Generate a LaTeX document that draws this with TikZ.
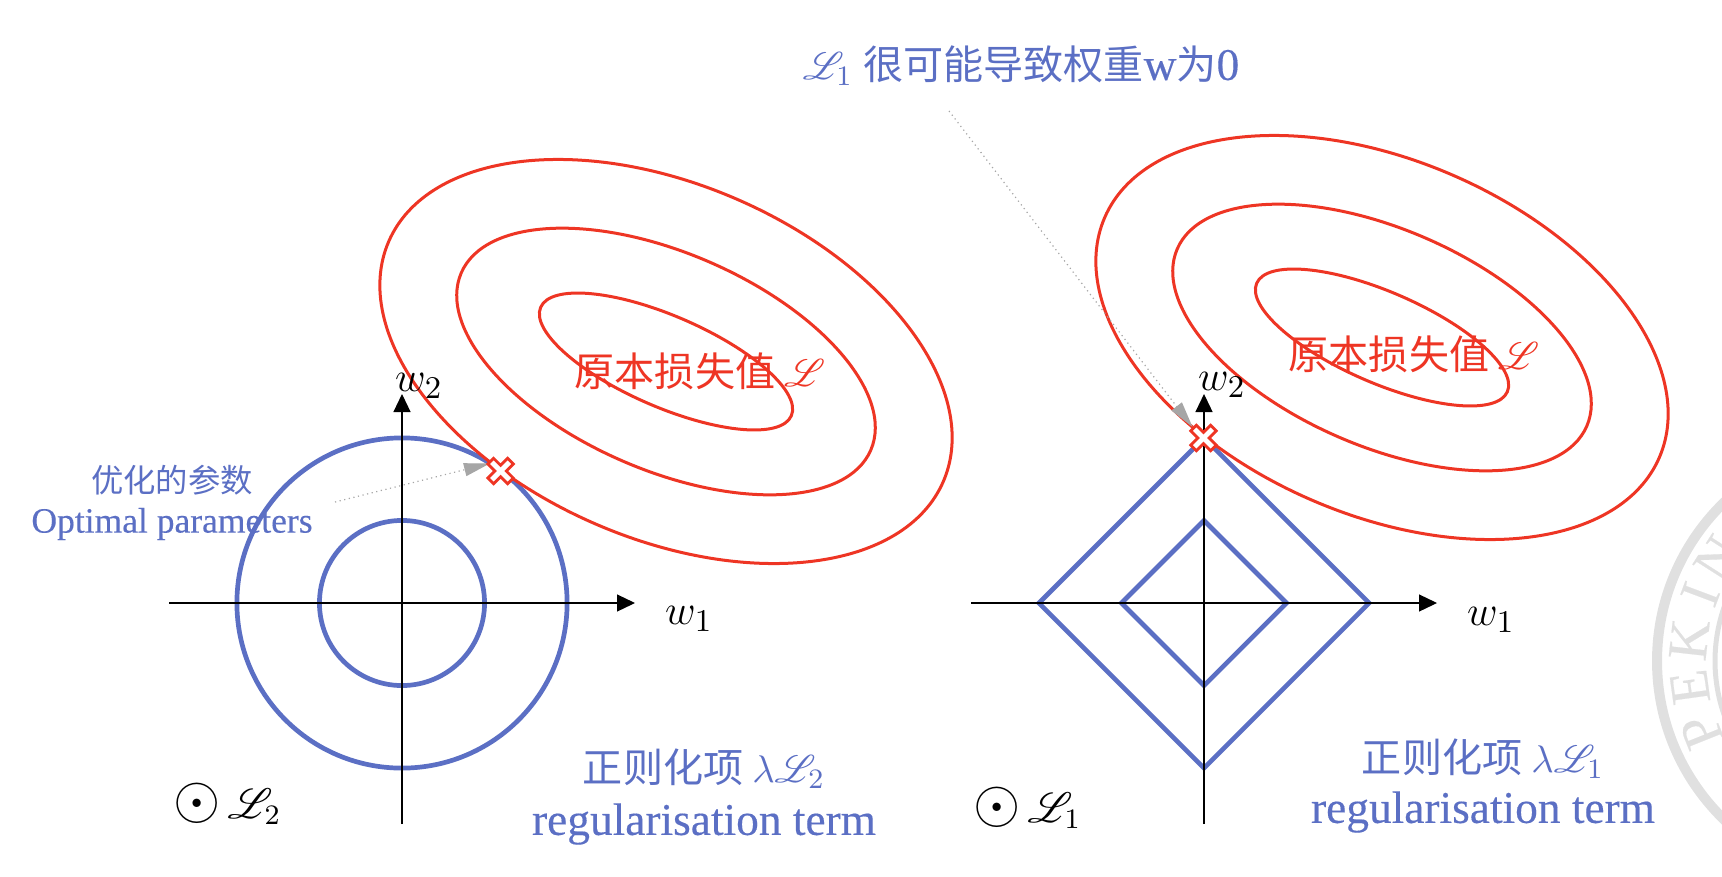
\documentclass[tikz,border=0pt]{standalone}
\usepackage{fontspec}
\usepackage{amsmath}
\usepackage{amssymb}
\usepackage{mathrsfs}
\setmainfont{Liberation Serif}
\newfontfamily\cjk{Noto Sans CJK SC}
\newfontfamily\latinheavy[FakeBold=0.3]{Liberation Serif}
\usetikzlibrary{positioning}
\usetikzlibrary{shapes.geometric}
\usetikzlibrary{arrows.meta}
\definecolor{lossred}{HTML}{EE3524}
\definecolor{regblue}{HTML}{5B6FC4}
\definecolor{leadgray}{HTML}{A6A6A6}
\definecolor{sealgray}{HTML}{E0E0E0}
\tikzset{
    lossring/.style = {ellipse,draw=lossred,line width=0.03cm,inner sep=0pt,outer sep=0pt,rotate=-23.4},
    regcircle/.style = {circle,draw=regblue,line width=0.047cm,inner sep=0pt,outer sep=0pt},
    regdiamond/.style = {diamond,draw=regblue,line width=0.047cm,inner sep=0pt,outer sep=0pt,aspect=1},
    axis/.style = {draw=black,line width=0.012cm,-{Triangle[length=0.18cm,width=0.17cm]}},
    leader/.style = {draw=leadgray,line width=0.012cm,densely dotted,-{Triangle[length=0.26cm,width=0.13cm,fill=leadgray]}},
    redtext/.style = {text=lossred,font=\fontsize{11.4}{13}\selectfont,inner sep=0pt},
    bluetext/.style = {text=regblue,font=\fontsize{11.4}{13}\selectfont,inner sep=0pt},
    blueterm/.style = {text=regblue,font=\fontsize{12.9}{15}\latinheavy,inner sep=0pt},
    smalltext/.style = {text=regblue,font=\fontsize{9.2}{11}\selectfont,inner sep=0pt},
    smallterm/.style = {text=regblue,font=\fontsize{10.1}{12}\latinheavy,inner sep=0pt},
    axislabel/.style = {text=black,font=\fontsize{13}{15}\selectfont,inner sep=0pt},
    normlabel/.style = {text=black,font=\fontsize{11.5}{14}\selectfont,inner sep=0pt,anchor=west},
    seal letter/.style = {text=sealgray,font=\fontsize{16}{18}\latinheavy,inner sep=0pt},
    optcross/.pic = {\draw[draw=lossred,fill=white,line width=0.028cm,rotate=45]
        (-14,-4) -- (-4,-4) -- (-4,-14) -- (4,-14) -- (4,-4) -- (14,-4)
        -- (14,4) -- (4,4) -- (4,14) -- (-4,14) -- (-4,4) -- (-14,4) -- cycle;}
}
\newcommand{\normdot}{{\fontsize{18}{18}\selectfont$\odot$}}
\begin{document}
\begin{tikzpicture}[x=0.01cm,y=-0.01cm,on grid]
    \path[use as bounding box,clip] (0,0) rectangle (1722,876);
    % seal at the right edge
    \coordinate (seal) at (1878,661);
    \draw[sealgray,line width=0.1cm] (seal) circle [radius=221];
    \draw[sealgray,line width=0.05cm] (seal) circle [radius=163];
    \foreach \ch/\ang in {P/158.2,E/172.1,K/186.4,I/200.6,N/212.6}
        \node (seal\ch) [seal letter,rotate={270-\ang}] at ([shift={(\ang:190)}]seal) {\ch};
    % left: L2
    \coordinate (Lo) at (402,603);
    \coordinate (Lwest) at (169,603);
    \coordinate (Least) at (635,603);
    \coordinate (Lsouth) at (402,824);
    \coordinate (Lnorth) at (402,394);
    \node (Lout) [regcircle,minimum size=3.3cm] at (Lo) {};
    \node (Lin) [regcircle,minimum size=1.65cm] at (Lo) {};
    \draw[axis] (Lwest) -- (Least);
    \draw[axis] (Lsouth) -- (Lnorth);
    \node (lossA) [lossring,minimum width=6.04cm,minimum height=3.54cm] at (666,361.5) {};
    \node (lossB) [lossring,minimum width=4.46cm,minimum height=2.17cm] at (666,361.5) {};
    \node (lossC) [lossring,minimum width=2.73cm,minimum height=0.91cm] at (666,361.5) {};
    \node (Lw1) [axislabel] at (689,619) {$w_1$};
    \node (Lw2) [axislabel] at (419,386) {$w_2$};
    \node (Lloss) [redtext] at (700,371) {\cjk 原本损失值 \normalfont$\mathscr{L}$};
    \node (Lreg) [bluetext] at (704,769) {\cjk 正则化项 \normalfont$\lambda\mathscr{L}_2$};
    \node (Lregen) [blueterm,below = 0.55cm of Lreg] {regularisation term};
    \node (Lnorm) [normlabel] at (173,804) {\normdot\,$\mathscr{L}_2$};
    \node (optzh) [smalltext] at (172,480) {\cjk 优化的参数};
    \node (opten) [smallterm,below = 0.44cm of optzh] {Optimal parameters};
    \coordinate (optLstart) at (335,502);
    \coordinate (optLtip) at (490,463.4);
    \coordinate (optL) at (500.6,471);
    \draw[leader] (optLstart) -- (optLtip);
    \pic at (optL) {optcross};
    % right: L1
    \coordinate (Ro) at (1204,603);
    \coordinate (Rwest) at (971,603);
    \coordinate (Reast) at (1437,603);
    \coordinate (Rsouth) at (1204,824);
    \coordinate (Rnorth) at (1204,394);
    \node (Rout) [regdiamond,minimum width=3.3cm,minimum height=3.3cm] at (Ro) {};
    \node (Rin) [regdiamond,minimum width=1.65cm,minimum height=1.65cm] at (Ro) {};
    \draw[axis] (Rwest) -- (Reast);
    \draw[axis] (Rsouth) -- (Rnorth);
    \node (lossD) [lossring,minimum width=6.04cm,minimum height=3.54cm] at (1382,337.5) {};
    \node (lossE) [lossring,minimum width=4.46cm,minimum height=2.17cm] at (1382,337.5) {};
    \node (lossF) [lossring,minimum width=2.73cm,minimum height=0.91cm] at (1382,337.5) {};
    \node (Rw1) [axislabel] at (1491,620) {$w_1$};
    \node (Rw2) [axislabel] at (1222,385) {$w_2$};
    \node (Rloss) [redtext] at (1414,354) {\cjk 原本损失值 \normalfont$\mathscr{L}$};
    \node (Rreg) [bluetext] at (1483,759) {\cjk 正则化项 \normalfont$\lambda\mathscr{L}_1$};
    \node (Rregen) [blueterm,below = 0.53cm of Rreg] {regularisation term};
    \node (Rnorm) [normlabel] at (973,808) {\normdot\,$\mathscr{L}_1$};
    \node (Rnote) [bluetext] at (1021,66) {$\mathscr{L}_1$ {\cjk 很可能导致权重}{\fontsize{12.9}{15}\latinheavy w}{\cjk 为}{\fontsize{12.9}{15}\latinheavy 0}};
    \coordinate (optRstart) at (949,111);
    \coordinate (optRtip) at (1192.5,427);
    \coordinate (optR) at (1203.5,438);
    \draw[leader] (optRstart) -- (optRtip);
    \pic at (optR) {optcross};
\end{tikzpicture}
\end{document}
